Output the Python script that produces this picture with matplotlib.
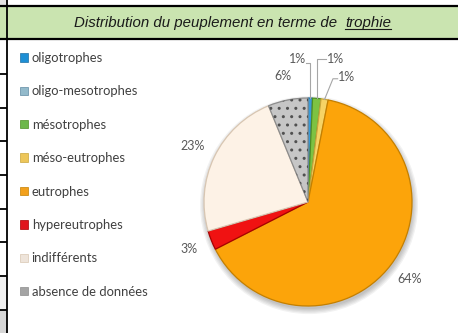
import matplotlib
matplotlib.use("Agg")
import matplotlib.pyplot as plt
from matplotlib.patches import Rectangle, Patch, Circle, Wedge
import numpy as np

# ---- data -------------------------------------------------------------
categories = ["oligotrophes", "oligo-mesotrophes", "mésotrophes", "méso-eutrophes",
              "eutrophes", "hypereutrophes", "indifférents", "absence de données"]
shares = [0.7, 0.0, 1.3, 1.1, 64.4, 3.0, 23.3, 6.2]
title_main = "Distribution du peuplement en terme de  "
title_key = "trophie"

# ---- styling ----------------------------------------------------------
slice_colors = ["#3A9BD9", "#8DB4CB", "#7DC242", "#F6D365",
                "#FCA40A", "#F01212", "#FDF2E6", "#C6C6C6"]
edge_colors = ["#1F6FA3", "#5F8AA3", "#4E8F24", "#C9A53A",
               "#C47F00", "#A80000", "#D8C6B2", "#8C8C8C"]
legend_colors = ["#1E8FD5", "#93BACB", "#6DB84A", "#EDC65A",
                 "#F2A01C", "#E0161C", "#EEE4DA", "#A4A4A4"]
label_color = "#595959"
label_font = "Lato"

W, H = 458, 333
fig = plt.figure(figsize=(W / 100, H / 100), dpi=100)
fig.patch.set_facecolor("white")

# sheet background: cells, title band, borders (1 data unit = 1 pixel)
bg = fig.add_axes([0, 0, 1, 1])
bg.set_xlim(0, W)
bg.set_ylim(H, 0)
bg.axis("off")
bg.add_patch(Rectangle((0, 0), 6.5, 5.5, color="#E3E3E3", lw=0))
bg.add_patch(Rectangle((0, 5.5), W, 33.5, color="#CAE4B0", lw=0))
bg.add_patch(Rectangle((0, 276), 6.5, 34, color="#F0F0F0", lw=0))
bg.add_patch(Rectangle((0, 310), 6.5, 23, color="#D6D6D6", lw=0))
bg.plot([0, W], [5.5, 5.5], color="black", lw=1.6, solid_capstyle="butt")
bg.plot([0, W], [39.2, 39.2], color="black", lw=1.6, solid_capstyle="butt")
bg.plot([6.5, 6.5], [0, H], color="black", lw=1.3, solid_capstyle="butt")
for y in [74, 107.5, 141, 175, 208.5, 242, 276, 310]:
    bg.plot([0, 6.5], [y, y], color="black", lw=1.3, solid_capstyle="butt")

# title with underlined keyword
renderer = fig.canvas.get_renderer()
tkw = dict(fontsize=10.8, family="Liberation Sans", style="italic",
           color="#1a1a1a", va="baseline", ha="left")
t1 = bg.text(0, 26.5, title_main, **tkw)
t2 = bg.text(0, 26.5, title_key, **tkw)
w1 = t1.get_window_extent(renderer).width
w2 = t2.get_window_extent(renderer).width
x0 = 232.5 - (w1 + w2) / 2
t1.set_x(x0)
t2.set_x(x0 + w1)
bg.plot([x0 + w1, x0 + w1 + w2], [28.6, 28.6], color="#1a1a1a", lw=0.8)

# ---- pie ----------------------------------------------------------------
R_px, cx, cy = 104, 308, 202
half = 1.6
side = 2 * half * R_px
ax = fig.add_axes([(cx - side / 2) / W, (H - cy - side / 2) / H, side / W, side / H])

# soft drop shadow under the pie
for k in range(5):
    ax.add_patch(Circle((0.01, -0.03), 1.0 + 0.012 * k, color="#000000",
                        alpha=0.05, lw=0, zorder=0))

wedges, _ = ax.pie(shares, colors=slice_colors, startangle=90, counterclock=False,
                   radius=1.0, wedgeprops=dict(linewidth=0.9))
for w, ec in zip(wedges, edge_colors):
    w.set_edgecolor(ec)
    w.set_zorder(2)

# dotted texture for the "no data" slice
gw = wedges[7]
ax.add_patch(Wedge((0, 0), 1.0, gw.theta1, gw.theta2, facecolor="none",
                   edgecolor="#505050", hatch="..", lw=0, zorder=3))

ax.set_xlim(-half, half)
ax.set_ylim(-half, half)
ax.axis("off")

# data labels: small slices get placed labels with leader lines
manual = {
    0: dict(pos=(-0.10, 1.375), path=[(-0.015, 1.34), None]),
    2: dict(pos=(0.26, 1.375), path=[(0.17, 1.375), None]),
    3: dict(pos=(0.375, 1.20), path=[(0.285, 1.185), (0.24, 1.185)]),
}
for i, (w, v) in enumerate(zip(wedges, shares)):
    if v <= 0:
        continue
    mid = np.deg2rad((w.theta1 + w.theta2) / 2)
    rim = (np.cos(mid), np.sin(mid))
    txt = f"{v:.0f}%"
    if i in manual:
        m = manual[i]
        lx, ly = m["pos"]
        a, elbow = m["path"]
        if elbow is None:
            elbow = (rim[0], a[1])
        ax.plot([a[0], elbow[0], rim[0]], [a[1], elbow[1], rim[1]],
                color="#A6A6A6", lw=0.8, zorder=4)
    else:
        lx, ly = 1.23 * rim[0], 1.23 * rim[1]
    ax.text(lx, ly, txt, ha="center", va="center", fontsize=9,
            family=label_font, color=label_color, zorder=5)

# ---- legend -------------------------------------------------------------
handles = [Patch(facecolor=c, edgecolor=ec, lw=0.5)
           for c, ec in zip(legend_colors, edge_colors)]
fig.legend(handles, categories, loc="upper left",
           bbox_to_anchor=(20 / W, 1 - 52 / H), frameon=False,
           prop=dict(family=label_font, size=9.4), labelcolor="#404040",
           handlelength=0.6, handleheight=0.6, handletextpad=0.3,
           labelspacing=1.64, borderpad=0, borderaxespad=0)

fig.savefig("out.png", dpi=100)
